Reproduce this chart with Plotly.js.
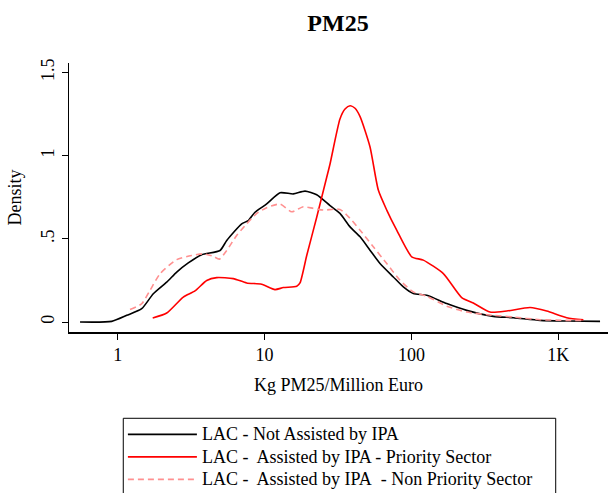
<!DOCTYPE html>
<html>
<head>
<meta charset="utf-8">
<script src="https://cdn.plot.ly/plotly-3.0.1.min.js"></script>
<style>html,body{margin:0;padding:0;background:#fff;}#chart{width:609px;height:493px;}</style>
</head>
<body>
<div id="chart"></div>
<script>
// Kg PM25 / Million Euro (x) and density (y)
const notAssistedX = [0.553, 0.909, 1.15, 1.455, 1.745, 2.154, 2.52, 3.02, 3.73, 4.97, 5.52, 6.98, 7.74, 8.60, 10.33, 12.74, 15.69, 18.85, 22.64, 27.9, 32.6, 38.2, 44.7, 52.2, 61.1, 75.3, 88.1, 103.0, 127.2, 174, 238, 361, 495, 752, 1143, 1927];
const notAssistedY = [0, 0.004, 0.04, 0.08, 0.17, 0.24, 0.30, 0.355, 0.405, 0.43, 0.49, 0.59, 0.61, 0.66, 0.71, 0.777, 0.77, 0.787, 0.765, 0.70, 0.653, 0.572, 0.512, 0.432, 0.352, 0.271, 0.211, 0.171, 0.161, 0.111, 0.07, 0.034, 0.026, 0.010, 0.006, 0.004];

const priorityX = [1.729, 2.154, 2.794, 3.357, 4.034, 4.72, 6.12, 7.55, 9.55, 11.77, 13.41, 16.55, 17.42, 19.36, 22.64, 26.49, 27.9, 32.6, 35.3, 38.2, 41.3, 44.7, 52.2, 59.5, 67.9, 79.4, 100.5, 120.5, 165, 220, 264, 343, 446, 643, 835, 1143, 1483];
const priorityY = [0.024, 0.054, 0.15, 0.187, 0.25, 0.267, 0.261, 0.235, 0.227, 0.195, 0.207, 0.215, 0.235, 0.40, 0.63, 0.87, 0.95, 1.22, 1.28, 1.30, 1.285, 1.235, 1.054, 0.793, 0.673, 0.552, 0.392, 0.372, 0.291, 0.147, 0.114, 0.06, 0.066, 0.087, 0.066, 0.026, 0.014];

const nonPriorityX = [1.211, 1.455, 1.657, 1.939, 2.52, 3.187, 3.823, 4.472, 4.915, 5.52, 6.45, 7.55, 8.84, 10.33, 12.74, 15.30, 18.35, 21.47, 25.11, 32.6, 38.2, 44.7, 55.0, 67.9, 83.6, 103, 127.2, 174, 238, 361, 495, 752, 1143, 1483];
const nonPriorityY = [0.075, 0.11, 0.19, 0.29, 0.375, 0.40, 0.41, 0.395, 0.378, 0.43, 0.52, 0.59, 0.653, 0.687, 0.709, 0.663, 0.693, 0.683, 0.673, 0.677, 0.623, 0.552, 0.452, 0.352, 0.251, 0.181, 0.155, 0.095, 0.06, 0.04, 0.03, 0.014, 0.01, 0.01];

const seriesNames = ["LAC - Not Assisted by IPA", "LAC -\u00a0 Assisted by IPA - Priority Sector", "LAC -\u00a0 Assisted by IPA\u00a0 - Non Priority Sector"];
const xTickVals = [1, 10, 100, 1000];
const xTickText = ["1", "10", "100", "1K"];
const yTickVals = [0, 0.5, 1, 1.5];
const yTickText = ["0", ".5", "1", "1.5"];

const font = "Liberation Serif, Times New Roman, serif";
const legendLabel = s => '<span style="font-size:18px">' + s + '</span>';

const traces = [
  {x: notAssistedX, y: notAssistedY, name: legendLabel(seriesNames[0]), mode: "lines", line: {color: "#000000", width: 1.6, shape: "spline", smoothing: 0.6}},
  {x: priorityX, y: priorityY, name: legendLabel(seriesNames[1]), mode: "lines", line: {color: "#ff0000", width: 1.6, shape: "spline", smoothing: 0.6}},
  {x: nonPriorityX, y: nonPriorityY, name: legendLabel(seriesNames[2]), mode: "lines", line: {color: "#ff9090", width: 1.6, dash: "6px,4px", shape: "spline", smoothing: 0.6}}
];

const layout = {
  width: 609, height: 493,
  paper_bgcolor: "#ffffff", plot_bgcolor: "#ffffff",
  font: {family: font, color: "#000", size: 18},
  margin: {l: 69, r: 1, t: 63, b: 161, autoexpand: false},
  title: {text: "<b>PM25</b>", font: {family: font, size: 24, color: "#000"}, x: 0.555, xanchor: "center", y: 0.955, yanchor: "middle"},
  xaxis: {
    type: "log", range: [-0.3324, 3.339],
    tickmode: "array", tickvals: xTickVals, ticktext: xTickText,
    ticks: "outside", ticklen: 6, tickwidth: 1, tickcolor: "#000",
    showline: true, linecolor: "#000", linewidth: 1.5, mirror: false,
    showgrid: false, zeroline: false,
    tickfont: {size: 18},
    title: {text: "Kg PM25/Million Euro", font: {size: 18}, standoff: 14}
  },
  yaxis: {
    range: [-0.060, 1.557],
    tickmode: "array", tickvals: yTickVals, ticktext: yTickText,
    ticks: "outside", ticklen: 6, tickwidth: 1, tickcolor: "#000",
    tickangle: -90, ticklabelstandoff: 0,
    showline: true, linecolor: "#000", linewidth: 1.5, mirror: false,
    showgrid: false, zeroline: false,
    tickfont: {size: 18},
    title: {text: "Density", font: {size: 18}, standoff: 12}
  },
  shapes: [{
    type: "rect", xref: "paper", yref: "paper",
    x0: 0.1007, x1: 0.903, y0: -0.3208, y1: -0.75,
    line: {color: "#000", width: 1}, fillcolor: "rgba(0,0,0,0)", layer: "below"
  }],
  showlegend: true,
  legend: {
    x: 0.1, xanchor: "left", y: -0.32, yanchor: "top",
    borderwidth: 0, bgcolor: "rgba(0,0,0,0)",
    font: {size: 15}, itemwidth: 69, tracegroupgap: 0,
    orientation: "v", itemclick: false
  }
};

Plotly.newPlot("chart", traces, layout, {displayModeBar: false, staticPlot: true});
</script>
</body>
</html>
